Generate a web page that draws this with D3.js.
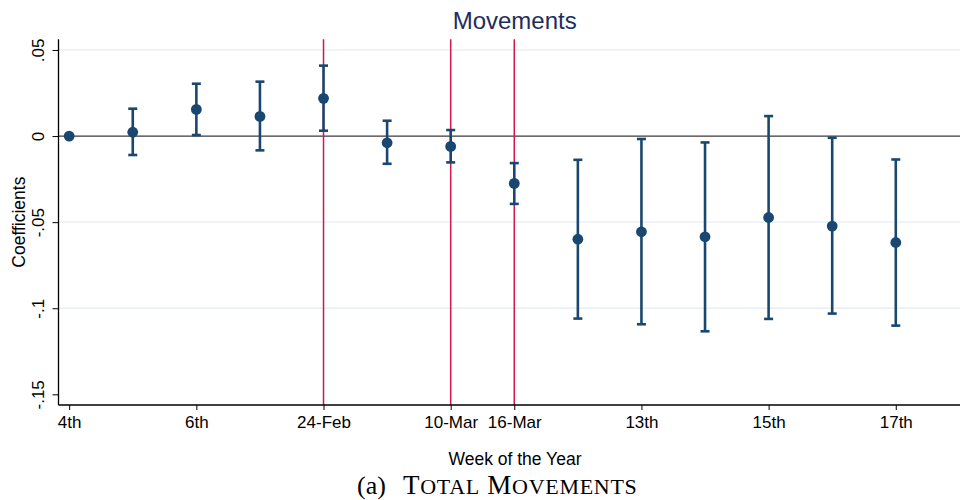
<!DOCTYPE html>
<html><head><meta charset="utf-8">
<script src="https://cdn.jsdelivr.net/npm/d3@7"></script>
<style>body{margin:0;background:#fff}svg{display:block}</style>
</head><body>
<svg id="c" width="961" height="500"></svg>
<script>
const weeks = [4,5,6,7,8,9,10,11,12,13,14,15,16,17];
const coef  = [0,0.0022,0.0155,0.0114,0.0219,-0.0039,-0.0060,-0.0275,-0.0599,-0.0556,-0.0585,-0.0473,-0.0523,-0.0618];
const ciLow = [null,-0.0110,0.0006,-0.0083,0.0031,-0.0161,-0.0153,-0.0394,-0.1060,-0.1093,-0.1134,-0.1062,-0.1031,-0.1101];
const ciHigh= [null,0.0159,0.0304,0.0316,0.0409,0.0089,0.0035,-0.0157,-0.0138,-0.0017,-0.0037,0.0116,-0.0010,-0.0136];
const xTickWeeks = [4,6,8,10,11,13,15,17];
const xTickLabels = ["4th","6th","24-Feb","10-Mar","16-Mar","13th","15th","17th"];
const yTicks = [0.05,0,-0.05,-0.1,-0.15];
const yTickLabels = [".05","0","-.05","-.1","-.15"];
const gridTicks = [0.05,-0.05,-0.1];
const eventWeeks = [8,10,11];

const svg = d3.select("#c");
const L=58.5, R=960, T=39.3, B=405;
const x = d3.scaleLinear().domain([3.832,18.01]).range([L,R]);
const y = d3.scaleLinear().domain([-0.1562,0.0562]).range([B,T]);
const sans = "Liberation Sans, Arial, sans-serif";

// grid
svg.append("g").selectAll("line").data(gridTicks).join("line")
  .attr("x1",L).attr("x2",R).attr("y1",d=>y(d)).attr("y2",d=>y(d))
  .attr("stroke","#e8eef3").attr("stroke-width",1.3);

// zero line
svg.append("line").attr("x1",L).attr("x2",R).attr("y1",y(0)).attr("y2",y(0))
  .attr("stroke","#3a3a3a").attr("stroke-width",1.3);

// event lines
svg.append("g").selectAll("line").data(eventWeeks).join("line")
  .attr("x1",d=>x(d)).attr("x2",d=>x(d)).attr("y1",T).attr("y2",B)
  .attr("stroke","#d0194a").attr("stroke-width",1.5);

// axes
const yAxis = d3.axisLeft(y).tickValues(yTicks).tickFormat((d,i)=>yTickLabels[i]).tickSize(6).tickPadding(0);
const gy = svg.append("g").attr("transform",`translate(${L},0)`).call(yAxis);
gy.select(".domain").attr("d",`M0,${T}V${B}`).attr("stroke","#000").attr("stroke-width",1.3);
gy.selectAll(".tick line").attr("stroke","#000").attr("stroke-width",1);
gy.selectAll(".tick text").attr("font-family",sans).attr("font-size",17)
  .attr("fill","#000").attr("text-anchor","middle").attr("dy",0)
  .attr("transform",`translate(${43.5-L},0) rotate(-90)`).attr("x",0).attr("y",0);

const xAxis = d3.axisBottom(x).tickValues(xTickWeeks).tickFormat((d,i)=>xTickLabels[i]).tickSize(5).tickPadding(0);
const gx = svg.append("g").attr("transform",`translate(0,${B})`).call(xAxis);
gx.select(".domain").attr("d",`M${L},0H${R}`).attr("stroke","#000").attr("stroke-width",1.3);
gx.selectAll(".tick line").attr("stroke","#000").attr("stroke-width",1);
gx.selectAll(".tick text").attr("font-family",sans).attr("font-size",17)
  .attr("fill","#000").attr("dy",0).attr("y",23);

// error bars
const data = weeks.map((w,i)=>({w, c:coef[i], lo:ciLow[i], hi:ciHigh[i]}));
const eb = data.filter(d=>d.lo!==null);
const col = "#1a476f";
const g = svg.append("g");
g.selectAll("line.v").data(eb).join("line").attr("class","v")
  .attr("x1",d=>x(d.w)).attr("x2",d=>x(d.w)).attr("y1",d=>y(d.lo)).attr("y2",d=>y(d.hi))
  .attr("stroke",col).attr("stroke-width",2.6);
g.selectAll("line.ch").data(eb).join("line").attr("class","ch")
  .attr("x1",d=>x(d.w)-4.5).attr("x2",d=>x(d.w)+4.5).attr("y1",d=>y(d.hi)).attr("y2",d=>y(d.hi))
  .attr("stroke",col).attr("stroke-width",2.6);
g.selectAll("line.cl").data(eb).join("line").attr("class","cl")
  .attr("x1",d=>x(d.w)-4.5).attr("x2",d=>x(d.w)+4.5).attr("y1",d=>y(d.lo)).attr("y2",d=>y(d.lo))
  .attr("stroke",col).attr("stroke-width",2.6);
g.selectAll("circle").data(data).join("circle")
  .attr("cx",d=>x(d.w)).attr("cy",d=>y(d.c)).attr("r",5.4).attr("fill",col);

// titles
svg.append("text").attr("x",514.7).attr("y",28.5).attr("text-anchor","middle")
  .attr("font-family",sans).attr("font-size",24).attr("fill","#1e2d5c")
  .text("Movements");
svg.append("text").attr("x",515).attr("y",465).attr("text-anchor","middle")
  .attr("font-family",sans).attr("font-size",17.5).attr("fill","#000")
  .text("Week of the Year");
svg.append("text").attr("transform",`translate(24.5,${(T+B)/2}) rotate(-90)`).attr("text-anchor","middle")
  .attr("font-family",sans).attr("font-size",17.5).attr("fill","#000")
  .text("Coefficients");

// caption with small caps
const capFont = "Liberation Serif, Times New Roman, serif";
svg.append("text").attr("x",357).attr("y",494).attr("font-family",capFont).attr("font-size",26).attr("fill","#000").text("(a)");
const cap = svg.append("text").attr("x",403).attr("y",494)
  .attr("font-family",capFont).attr("fill","#000").attr("letter-spacing",0.7);
const parts = [["T",27],["OTAL",22],[" ",27],["M",27],["OVEMENTS",22]];
parts.forEach(p=>cap.append("tspan").attr("font-size",p[1]).text(p[0]));
</script>
</body></html>
